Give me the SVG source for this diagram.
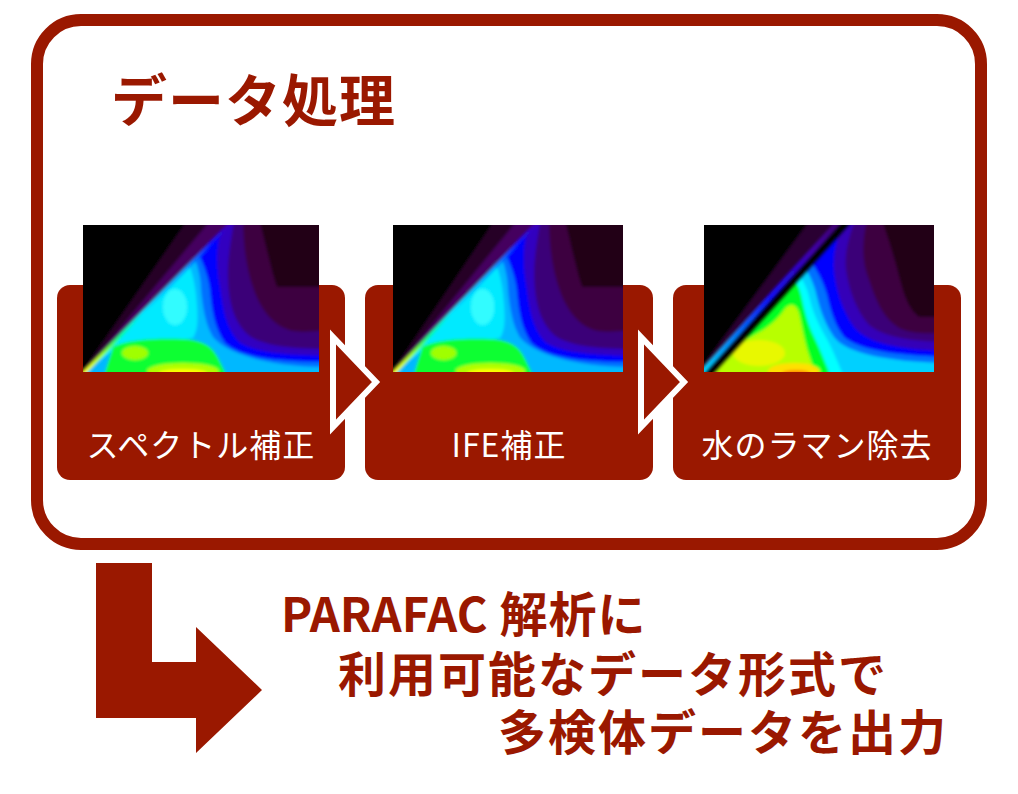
<svg xmlns="http://www.w3.org/2000/svg" width="1018" height="794" viewBox="0 0 1018 794">
<style>
.red{fill:#9a1800}
.box{fill:#9a1800}
.lbl{font-family:'Noto Sans CJK JP','Noto Sans',sans-serif;font-size:32px;fill:#fff;text-anchor:middle;letter-spacing:1px}
.big{font-family:'Noto Sans CJK JP','Noto Sans',sans-serif;font-weight:bold;fill:#9a1800}
.tri{fill:#9a1800;stroke:#fff;stroke-width:6;stroke-linejoin:miter}
</style>
<defs>
<filter id="soft" x="-10%" y="-10%" width="120%" height="120%"><feGaussianBlur stdDeviation="1.6"/></filter>
<clipPath id="clipA"><rect x="0" y="0" width="236" height="147"/></clipPath>
<clipPath id="clipC"><rect x="0" y="0" width="230" height="147"/></clipPath>
<linearGradient id="ray1" gradientUnits="userSpaceOnUse" x1="2" y1="147" x2="146" y2="0">
<stop offset="0" stop-color="#ffff00"/><stop offset="0.12" stop-color="#a0ff00"/><stop offset="0.25" stop-color="#00ffa0"/><stop offset="0.4" stop-color="#00e8ff"/><stop offset="0.7" stop-color="#00a0ff"/><stop offset="0.88" stop-color="#1010ff"/><stop offset="1" stop-color="#4000b0"/>
</linearGradient>
<linearGradient id="ray3" gradientUnits="userSpaceOnUse" x1="-6" y1="147" x2="138" y2="0">
<stop offset="0" stop-color="#00e0ff"/><stop offset="0.25" stop-color="#0080ff"/><stop offset="0.5" stop-color="#1010ff"/><stop offset="0.8" stop-color="#4000b0"/><stop offset="1" stop-color="#400070"/>
</linearGradient>
<g id="hm1src">
<rect x="-10" y="-10" width="256" height="167" fill="#000"/>
<polygon points="-8,157 108,-10 156,-10" fill="#260028"/>
<polygon points="-8,157 132,-10 156,-10" fill="#44005e"/>
<polygon points="-8,157 156,-10 246,-10 246,157" fill="#3c0040"/>
<path d="M175,-10 L246,-10 L246,62 L194,62 C188,45 183,20 175,-10 Z" fill="#210016"/>
<path d="M-8,157 L156,-10 L160,-10 C160,20 163,45 172,68 C180,88 192,102 210,106 C225,108 236,105 246,105 L246,157 Z" fill="#3a0078"/>
<path d="M-8,157 L156,-10 L152,-10 C148,15 144,35 145,55 C146,80 152,100 168,112 C185,122 215,124 246,124 L246,157 Z" fill="#3200c0"/>
<path d="M-8,157 L138,8 C132,25 134,45 137,62 C140,85 143,102 155,116 C170,128 205,130 246,131 L246,157 Z" fill="#0000ff"/>
<path d="M-8,157 L116,30 C122,42 126,55 127,65 C129,85 131,102 142,118 C160,134 200,137 246,137 L246,157 Z" fill="#0070ff"/>
<path d="M-8,157 L112,34 C116,45 118,55 118,65 C120,85 123,100 130,112 C145,130 190,142 246,142 L246,157 Z" fill="#00b8ff"/>
<path d="M10,140 L106,40 C111,52 113,65 114,80 C115,95 115,105 110,113 C90,118 60,115 35,122 Z" fill="#00eaff"/>
<ellipse cx="92" cy="82" rx="12" ry="18" fill="#30fcff"/>
<path d="M22,157 L22,147 L30,122 C42,115 70,113 100,114 C118,115 128,120 134,131 C138,138 140,143 142,147 L142,157 Z" fill="#10ff30"/>
<ellipse cx="52" cy="128" rx="13" ry="7" fill="#a0ff00"/>
<ellipse cx="100" cy="146" rx="36" ry="8" fill="#b0ff00"/>
<ellipse cx="100" cy="148" rx="24" ry="4" fill="#ffff00"/>
<line x1="-2" y1="151" x2="148" y2="-2" stroke="url(#ray1)" stroke-width="3.5"/>
</g>
</defs>

<rect x="0" y="0" width="1018" height="794" fill="#fff"/>

<g id="frame">
<rect x="37" y="20" width="944" height="524" rx="44" ry="44" fill="none" stroke="#9a1800" stroke-width="12"/>
</g>

<g id="title">
<text class="big" x="111" y="121" font-size="56" letter-spacing="1">データ処理</text>
</g>

<g id="step1">
<rect class="box" x="57" y="285" width="288" height="195" rx="13" ry="13"/>
<g transform="translate(83,225)" clip-path="url(#clipA)"><use href="#hm1src" filter="url(#soft)"/></g>
<text class="lbl" x="201" y="457">スペクトル補正</text>
</g>

<g id="step2">
<rect class="box" x="365" y="285" width="288" height="195" rx="13" ry="13"/>
<g transform="translate(393,225) scale(0.9746,1)" clip-path="url(#clipA)"><use href="#hm1src" filter="url(#soft)"/></g>
<text class="lbl" x="509" y="457">IFE補正</text>
</g>

<g id="step3">
<rect class="box" x="673" y="285" width="288" height="195" rx="13" ry="13"/>
<g transform="translate(704,225)" clip-path="url(#clipC)">
<g filter="url(#soft)">
<rect x="-10" y="-10" width="250" height="167" fill="#000"/>
<polygon points="-13,157 110,-10 150,-10 -2,157" fill="#2a0030"/>
<polygon points="-2,157 150,-10 240,-10 240,157" fill="#3c0040"/>
<path d="M176,-10 L240,-10 L240,92 L215,92 C205,85 200,70 196,55 C191,35 185,15 176,-10 Z" fill="#210016"/>
<path d="M-2,157 L150,-10 L164,-10 C158,15 157,35 165,55 C172,75 178,92 195,103 C210,110 225,108 240,108 L240,157 Z" fill="#3a0078"/>
<path d="M-2,157 L148,-8 L152,-8 C145,12 140,28 142,45 C145,65 152,85 165,100 C180,112 205,116 240,117 L240,157 Z" fill="#3400b8"/>
<path d="M-2,157 L140,0 C132,15 129,30 130,45 C132,65 138,85 150,102 C162,116 185,124 240,126 L240,157 Z" fill="#0000ff"/>
<path d="M-2,157 L108,38 C116,50 120,60 123,70 C127,88 131,100 140,112 C155,125 190,130 240,132 L240,157 Z" fill="#0070ff"/>
<path d="M-2,157 L102,44 C108,55 111,62 113,72 C117,88 122,100 130,112 C140,125 170,136 240,138 L240,157 Z" fill="#00d0ff"/>
<path d="M-2,157 L96,50 C100,58 104,65 106,75 C110,92 118,105 125,118 C130,128 135,140 138,147 L138,157 Z" fill="#00ffff"/>
<path d="M-2,157 L88,56 C92,54 95,62 97,70 C100,85 104,100 110,112 C115,122 120,135 125,147 L125,157 Z" fill="#00ff20"/>
<path d="M-2,157 L40,115 C55,108 70,100 80,85 C85,78 92,78 95,88 C98,100 100,115 105,130 C108,140 112,147 115,157 Z" fill="#b8ff00"/>
<ellipse cx="55" cy="128" rx="26" ry="13" fill="#e8f800"/>
<ellipse cx="90" cy="146" rx="26" ry="8" fill="#ffe000"/>
<ellipse cx="92" cy="148" rx="14" ry="3" fill="#ff9000"/>
<line x1="-10" y1="157" x2="141" y2="-10" stroke="url(#ray3)" stroke-width="5"/>
<line x1="-2.3" y1="157" x2="149.6" y2="-10" stroke="#000" stroke-width="8"/>
</g>
</g>
<text class="lbl" x="817" y="457">水のラマン除去</text>
</g>

<g id="connectors">
<polygon class="tri" points="333,337 376,382 333,427"/>
<polygon class="tri" points="641,337 684,382 641,427"/>
<polygon id="bigarrow" class="red" points="96,563 152,563 152,662 196,662 196,627 262,690 196,753 196,718 96,718"/>
</g>

<g id="result">
<text class="big" font-size="48" letter-spacing="1"><tspan x="281" y="632" font-size="47" letter-spacing="0">PARAFAC</tspan><tspan letter-spacing="1"> 解析に</tspan></text>
<text class="big" x="338" y="692" font-size="48" letter-spacing="2">利用可能なデータ形式で</text>
<text class="big" x="498" y="750" font-size="48" letter-spacing="2">多検体データを出力</text>
</g>
</svg>
